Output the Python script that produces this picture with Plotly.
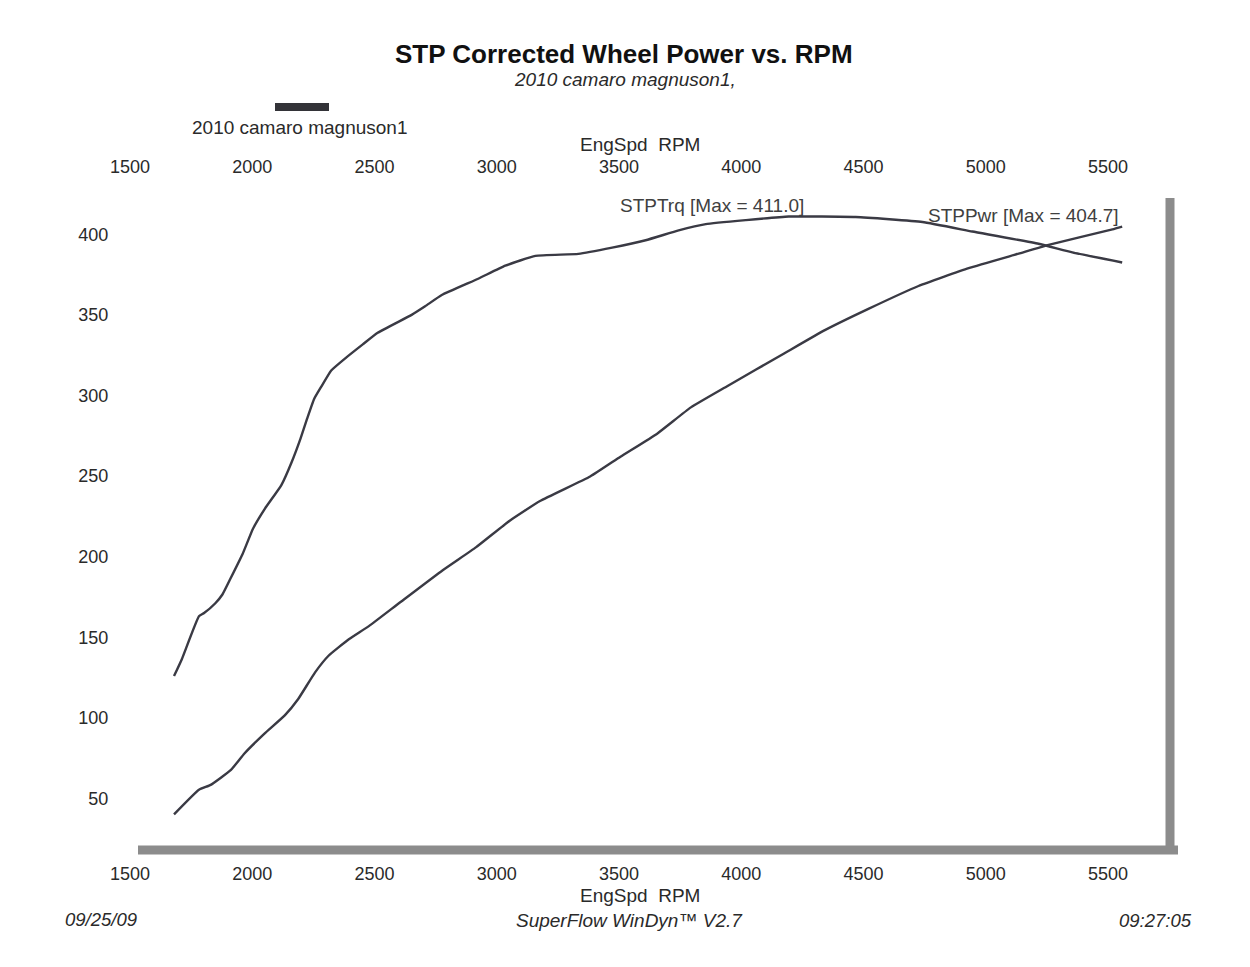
import plotly.graph_objects as go

# ---- data read from the dyno sheet ----
rpm_trq = [1680, 1712, 1782, 1803, 1849, 1878, 1911, 1961, 2003, 2052, 2119, 2161,
           2197, 2224, 2253, 2281, 2323, 2384, 2452, 2513, 2652, 2707, 2775, 2924,
           3035, 3158, 3334, 3472, 3609, 3744, 3855, 4019, 4194, 4468, 4741, 4945,
           5216, 5354, 5558]
stp_trq = [125.9, 136.4, 163.0, 165.0, 171.1, 176.5, 186.4, 201.8, 217.3, 229.8,
           244.4, 258.6, 273.1, 285.4, 297.8, 305.1, 315.5, 323.5, 331.7, 338.9,
           350.0, 355.3, 362.3, 372.4, 380.5, 386.6, 387.8, 391.7, 396.3, 402.4,
           406.3, 408.8, 411.0, 410.7, 407.6, 401.7, 394.1, 388.8, 382.5]

rpm_pwr = [1680, 1782, 1830, 1913, 1968, 2050, 2133, 2188, 2257, 2312, 2395, 2477,
           2601, 2779, 2916, 3053, 3177, 3382, 3506, 3656, 3794, 3944, 4177, 4342,
           4520, 4725, 4930, 5135, 5257, 5518, 5558]
stp_pwr = [40.1, 55.4, 58.4, 67.7, 77.9, 90.2, 101.5, 111.7, 128.2, 138.5, 148.7,
           156.9, 171.2, 191.6, 205.9, 222.3, 234.5, 249.7, 262.0, 276.3, 292.6,
           305.9, 326.2, 340.5, 353.7, 367.9, 379.0, 388.0, 393.4, 403.0, 404.7]

x_ticks = [1500, 2000, 2500, 3000, 3500, 4000, 4500, 5000, 5500]
y_ticks = [50, 100, 150, 200, 250, 300, 350, 400]

title_text = "STP Corrected Wheel Power vs. RPM"
subtitle_text = "2010 camaro magnuson1,"
legend_text = "2010 camaro magnuson1"
axis_title = "EngSpd  RPM"
trq_label = "STPTrq [Max = 411.0]"
pwr_label = "STPPwr [Max = 404.7]"
footer_left = "09/25/09"
footer_mid = "SuperFlow WinDyn\u2122 V2.7"
footer_right = "09:27:05"

# ---- layout geometry ----
W, H = 1250, 967
L, R, T, B = 130, 79, 198, 117
PW, PH = W - L - R, H - T - B


def pxx(x):
    return (x - L) / PW


def pxy(y):
    return (H - B - y) / PH


FONT = "Liberation Sans, Arial, sans-serif"
LINE_COLOR = "#3a3a44"
TEXT_COLOR = "#2a2a2a"

fig = go.Figure()
fig.add_trace(go.Scatter(x=rpm_trq, y=stp_trq, mode="lines", name="STPTrq",
                         line=dict(color=LINE_COLOR, width=2.4, shape="spline", smoothing=0.4),
                         showlegend=False))
fig.add_trace(go.Scatter(x=rpm_pwr, y=stp_pwr, mode="lines", name="STPPwr",
                         line=dict(color=LINE_COLOR, width=2.4, shape="spline", smoothing=0.4),
                         showlegend=False))

xr = [1500, 1500 + PW / 0.2445]
yr = [18.0, 422.5]

fig.update_layout(
    width=W, height=H,
    margin=dict(l=L, r=R, t=T, b=B, pad=0),
    paper_bgcolor="white", plot_bgcolor="white",
    font=dict(family=FONT, color=TEXT_COLOR, size=18),
    xaxis=dict(range=xr, tickvals=x_ticks, ticktext=[str(v) for v in x_ticks],
               showgrid=False, zeroline=False, showline=False,
               ticks="outside", ticklen=7, tickcolor="rgba(0,0,0,0)",
               tickfont=dict(size=18, family=FONT, color=TEXT_COLOR)),
    xaxis2=dict(range=xr, overlaying="x", side="top", anchor="y", matches="x",
                tickvals=x_ticks, ticktext=[str(v) for v in x_ticks],
                showgrid=False, zeroline=False, showline=False,
                ticks="outside", ticklen=17, tickcolor="rgba(0,0,0,0)",
                tickfont=dict(size=18, family=FONT, color=TEXT_COLOR)),
    yaxis=dict(range=yr, tickvals=y_ticks, ticktext=[str(v) for v in y_ticks],
               showgrid=False, zeroline=False, showline=False,
               ticks="outside", ticklen=17, tickcolor="rgba(0,0,0,0)",
               tickfont=dict(size=18, family=FONT, color=TEXT_COLOR)),
)

# invisible trace so the top axis renders
fig.add_trace(go.Scatter(x=[xr[0], xr[1]], y=[yr[0], yr[0]], xaxis="x2", mode="lines",
                         line=dict(color="rgba(0,0,0,0)"), showlegend=False, hoverinfo="skip"))

# frame: thick gray right and bottom borders
GRAY = "#8c8c8c"
fig.add_shape(type="line", xref="paper", yref="paper",
              x0=pxx(138), x1=pxx(1178), y0=pxy(850), y1=pxy(850),
              line=dict(color=GRAY, width=9))
fig.add_shape(type="line", xref="paper", yref="paper",
              x0=pxx(1170), x1=pxx(1170), y0=pxy(850), y1=pxy(198),
              line=dict(color=GRAY, width=9))

# legend swatch
fig.add_shape(type="line", xref="paper", yref="paper",
              x0=pxx(275), x1=pxx(329), y0=pxy(107), y1=pxy(107),
              line=dict(color="#333338", width=8))


def ann(text, x, y, xanchor="center", size=19, bold=False, italic=False, color=TEXT_COLOR):
    t = text
    if bold:
        t = "<b>" + t + "</b>"
    if italic:
        t = "<i>" + t + "</i>"
    fig.add_annotation(text=t, x=pxx(x), y=pxy(y), xref="paper", yref="paper",
                       xanchor=xanchor, yanchor="middle", showarrow=False,
                       font=dict(family=FONT, size=size, color=color))


ann(title_text, 624, 54, size=26, bold=True, color="#111111")
ann(subtitle_text, 625, 80, size=19, italic=True)
ann(legend_text, 299, 128, size=19)
ann(axis_title, 640, 145, size=19)
ann(axis_title, 640, 895, size=19)
ann(trq_label, 806, 205, xanchor="right", size=19, color="#404040")
ann(pwr_label, 1121, 216, xanchor="right", size=19, color="#404040")
ann(footer_left, 101, 919, size=18.5, italic=True)
ann(footer_mid, 629, 920, size=19, italic=True)
ann(footer_right, 1194, 920, xanchor="right", size=18.5, italic=True)

fig.write_html("out.html", config={"displayModeBar": False},
               post_script="document.body.style.margin='0';document.body.style.overflow='hidden';")
